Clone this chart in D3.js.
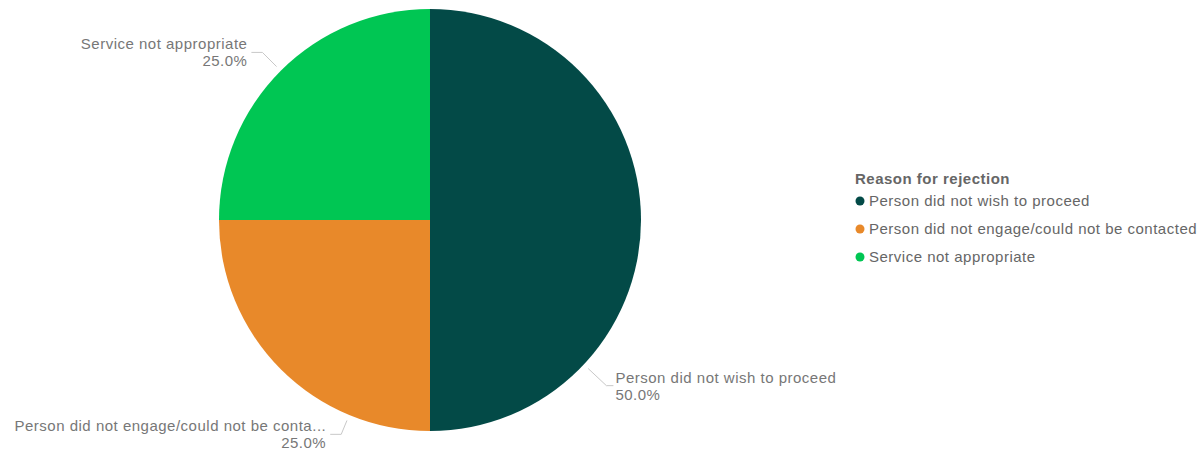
<!DOCTYPE html>
<html>
<head>
<meta charset="utf-8">
<script src="https://cdn.jsdelivr.net/npm/d3@7"></script>
<style>
  body { margin: 0; background: #fff; }
  text { font-family: "Liberation Sans", Arial, sans-serif; letter-spacing: 0.5px; }
</style>
</head>
<body>
<svg id="chart"></svg>
<script>
// data
const categories = ["Person did not wish to proceed", "Person did not engage/could not be contacted", "Service not appropriate"];
const shortLabels = ["Person did not wish to proceed", "Person did not engage/could not be conta...", "Service not appropriate"];
const values = [50, 25, 25];
const colors = ["#034a47", "#e8892a", "#00c653"];
const legendTitle = "Reason for rejection";

// where along each slice the label leader sits (0..1 of its arc), and its elbow radius
const labelAt = [0.74, 0.25, 0.5];
const elbowR = [242, 232, 237];

let svgWidth = 1203, svgHeight = 457;
let cx = 430, cy = 220, radius = 211;

let svg = d3.select('#chart')
    .attr("width", svgWidth)
    .attr("height", svgHeight);

let g = svg.append("g")
    .attr("transform", "translate(" + cx + "," + cy + ")");

let pie = d3.pie().sort(null).value(function (d) { return d; });
let arcs = pie(values);
let total = d3.sum(values);

let arc = d3.arc().innerRadius(0).outerRadius(radius);

g.selectAll("path.slice")
    .data(arcs)
    .enter().append("path")
    .attr("class", "slice")
    .attr("fill", function (d, i) { return colors[i]; })
    .attr("d", arc);

function pt(a, r) {
    return [r * Math.sin(a), -r * Math.cos(a)];
}

arcs.forEach(function (d, i) {
    let a = d.startAngle + (d.endAngle - d.startAngle) * labelAt[i];
    let p1 = pt(a, radius + 6);
    let p2 = pt(a, elbowR[i]);
    let right = Math.sin(a) > 0;
    let p3 = [p2[0] + (right ? 7 : -11), p2[1]];

    g.append("polyline")
        .attr("points", [p1, p2, p3].map(function (p) { return p.join(","); }).join(" "))
        .attr("fill", "none")
        .attr("stroke", "#c8c8c8")
        .attr("stroke-width", 1);

    let tx = p3[0] + (right ? 2 : -4);
    let anchor = right ? "start" : "end";
    let pct = (d.data / total * 100).toFixed(1) + "%";

    g.append("text")
        .attr("x", tx)
        .attr("y", p3[1] - 3)
        .attr("text-anchor", anchor)
        .attr("fill", "#777")
        .style("font-size", "15px")
        .text(shortLabels[i]);

    g.append("text")
        .attr("x", tx)
        .attr("y", p3[1] + 14)
        .attr("text-anchor", anchor)
        .attr("fill", "#777")
        .style("font-size", "15px")
        .text(pct);
});

// legend
let legend = svg.append("g")
    .attr("transform", "translate(855,184)");

legend.append("text")
    .attr("x", 0)
    .attr("y", 0)
    .attr("fill", "#666")
    .style("font-size", "15px")
    .style("font-weight", "bold")
    .text(legendTitle);

let items = legend.selectAll("g.item")
    .data(categories)
    .enter().append("g")
    .attr("class", "item")
    .attr("transform", function (d, i) { return "translate(0," + (22 + i * 28) + ")"; });

items.append("circle")
    .attr("cx", 5)
    .attr("cy", -5)
    .attr("r", 4.5)
    .attr("fill", function (d, i) { return colors[i]; });

items.append("text")
    .attr("x", 14)
    .attr("y", 0)
    .attr("fill", "#666")
    .style("font-size", "15px")
    .text(function (d) { return d; });
</script>
</body>
</html>
